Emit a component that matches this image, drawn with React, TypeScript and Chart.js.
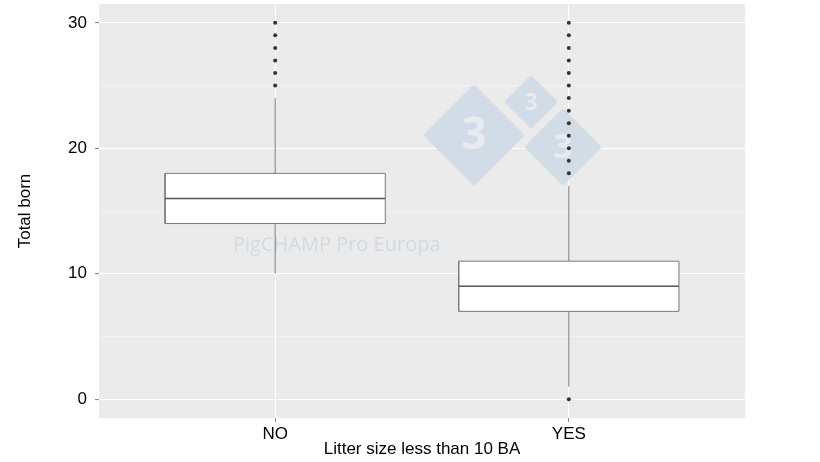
import React, { useEffect, useRef } from "react";
import { Chart, registerables } from "chart.js";

Chart.register(...registerables);

const categories = ["NO", "YES"];
const whiskerLow = [10, 1];
const q1 = [14, 7];
const median = [16, 9];
const q3 = [18, 11];
const whiskerHigh = [24, 17];
const outliersNO = [25, 26, 27, 28, 29, 30];
const outliersYES = [0, 18, 19, 20, 21, 22, 23, 24, 25, 26, 27, 28, 29, 30];
const outlierGroups = [outliersNO, outliersYES];
const yTicks = [0, 10, 20, 30];

const BOX_HALF = 0.375;
const LINE_COLOR = "#7a7a7a";

const panelBg = {
  id: "panelBg",
  beforeDraw(chart: any) {
    const { ctx, chartArea } = chart;
    ctx.save();
    ctx.fillStyle = "#EBEBEB";
    ctx.fillRect(chartArea.left, chartArea.top, chartArea.right - chartArea.left, chartArea.bottom - chartArea.top);
    ctx.restore();
  },
  beforeDatasetsDraw(chart: any) {
    const { ctx } = chart;
    ctx.save();
    const diamonds = [
      { cx: 474, cy: 135, h: 48, fs: 44 },
      { cx: 531, cy: 102, h: 24, fs: 23 },
      { cx: 563, cy: 147, h: 36, fs: 34 },
    ];
    for (const d of diamonds) {
      ctx.beginPath();
      ctx.moveTo(d.cx, d.cy - d.h);
      ctx.lineTo(d.cx + d.h, d.cy);
      ctx.lineTo(d.cx, d.cy + d.h);
      ctx.lineTo(d.cx - d.h, d.cy);
      ctx.closePath();
      ctx.lineJoin = "round";
      ctx.lineWidth = 4;
      ctx.strokeStyle = "#d2dce6";
      ctx.fillStyle = "#d2dce6";
      ctx.fill();
      ctx.stroke();
      ctx.fillStyle = "#e8ecef";
      ctx.font = `bold ${d.fs}px "Open Sans", sans-serif`;
      ctx.textAlign = "center";
      ctx.textBaseline = "middle";
      ctx.fillText("3", d.cx, d.cy + 1);
    }
    ctx.fillStyle = "#cfdae4";
    ctx.font = '20px "Open Sans", sans-serif';
    ctx.textAlign = "left";
    ctx.textBaseline = "middle";
    ctx.fillText("PigCHAMP Pro Europa", 233, 245);
    ctx.restore();
  },
};

function buildDatasets() {
  const ds: any[] = [];
  categories.forEach((_, i) => {
    const x = i + 1;
    ds.push({
      type: "line",
      data: [{ x, y: q3[i] }, { x, y: whiskerHigh[i] }],
      borderColor: LINE_COLOR,
      borderWidth: 1,
      pointRadius: 0,
      order: 5,
    });
    ds.push({
      type: "line",
      data: [{ x, y: whiskerLow[i] }, { x, y: q1[i] }],
      borderColor: LINE_COLOR,
      borderWidth: 1,
      pointRadius: 0,
      order: 5,
    });
    ds.push({
      type: "line",
      data: [{ x: x - BOX_HALF, y: q3[i] }, { x: x + BOX_HALF, y: q3[i] }],
      borderWidth: 0,
      borderColor: "rgba(0,0,0,0)",
      backgroundColor: "#ffffff",
      fill: { value: q1[i] },
      pointRadius: 0,
      order: 4,
    });
    ds.push({
      type: "line",
      data: [
        { x: x - BOX_HALF, y: q1[i] },
        { x: x + BOX_HALF, y: q1[i] },
        { x: x + BOX_HALF, y: q3[i] },
        { x: x - BOX_HALF, y: q3[i] },
        { x: x - BOX_HALF, y: q1[i] },
      ],
      borderColor: LINE_COLOR,
      borderWidth: 1,
      pointRadius: 0,
      fill: false,
      order: 3,
    });
    ds.push({
      type: "line",
      data: [{ x: x - BOX_HALF, y: median[i] }, { x: x + BOX_HALF, y: median[i] }],
      borderColor: "#555555",
      borderWidth: 1.6,
      pointRadius: 0,
      order: 2,
    });
    ds.push({
      type: "scatter",
      data: outlierGroups[i].map((v) => ({ x, y: v })),
      backgroundColor: "#333333",
      borderWidth: 0,
      pointRadius: 2,
      order: 1,
    });
  });
  return ds;
}

export default function App() {
  const ref = useRef<HTMLCanvasElement>(null);
  useEffect(() => {
    document.body.style.margin = "0";
    const font = { family: '"Liberation Sans", Arial, sans-serif', size: 17 };
    const chart = new Chart(ref.current as HTMLCanvasElement, {
      type: "scatter",
      data: { datasets: buildDatasets() },
      plugins: [panelBg],
      options: {
        animation: false,
        responsive: false,
        layout: { padding: { top: 3, right: 75, left: 0, bottom: 0 } },
        plugins: { legend: { display: false }, tooltip: { enabled: false } },
        scales: {
          x: {
            type: "linear",
            min: 0.4,
            max: 2.6,
            afterBuildTicks: (s: any) => {
              s.ticks = categories.map((_, i) => ({ value: i + 1 }));
            },
            afterFit: (s: any) => {
              s.height = 44;
              s.paddingLeft = 0;
              s.paddingRight = 0;
            },
            ticks: {
              callback: (v: any) => categories[Number(v) - 1] ?? "",
              color: "#000000",
              font,
              padding: 2,
              maxRotation: 0,
            },
            grid: {
              color: "#ffffff",
              lineWidth: 1,
              tickColor: "#888888",
              tickLength: 4,
            },
            border: { display: false },
            title: {
              display: true,
              text: "Litter size less than 10 BA",
              color: "#000000",
              font,
              padding: { top: 0, bottom: 2 },
            },
          },
          y: {
            min: -1.5,
            max: 31.5,
            afterBuildTicks: (s: any) => {
              s.ticks = [0, 5, 10, 15, 20, 25, 30].map((v) => ({ value: v }));
            },
            afterFit: (s: any) => {
              s.width = 99;
              s.paddingTop = 0;
              s.paddingBottom = 0;
            },
            ticks: {
              callback: (v: any) => (yTicks.includes(Number(v)) ? String(v) : ""),
              color: "#000000",
              font,
              padding: 8,
            },
            grid: {
              color: (c: any) => (c.tick && c.tick.value % 10 === 0 ? "#ffffff" : "rgba(255,255,255,0.6)"),
              lineWidth: (c: any) => (c.tick && c.tick.value % 10 === 0 ? 1.1 : 0.6),
              tickColor: (c: any) => (c.tick && c.tick.value % 10 === 0 ? "#888888" : "rgba(0,0,0,0)"),
              tickLength: 4,
            },
            border: { display: false },
            title: {
              display: true,
              text: "Total born",
              color: "#000000",
              font,
              padding: { top: 15, bottom: 0 },
            },
          },
        },
      },
    } as any);
    return () => chart.destroy();
  }, []);
  return <canvas ref={ref} width={820} height={462} style={{ display: "block" }} />;
}
